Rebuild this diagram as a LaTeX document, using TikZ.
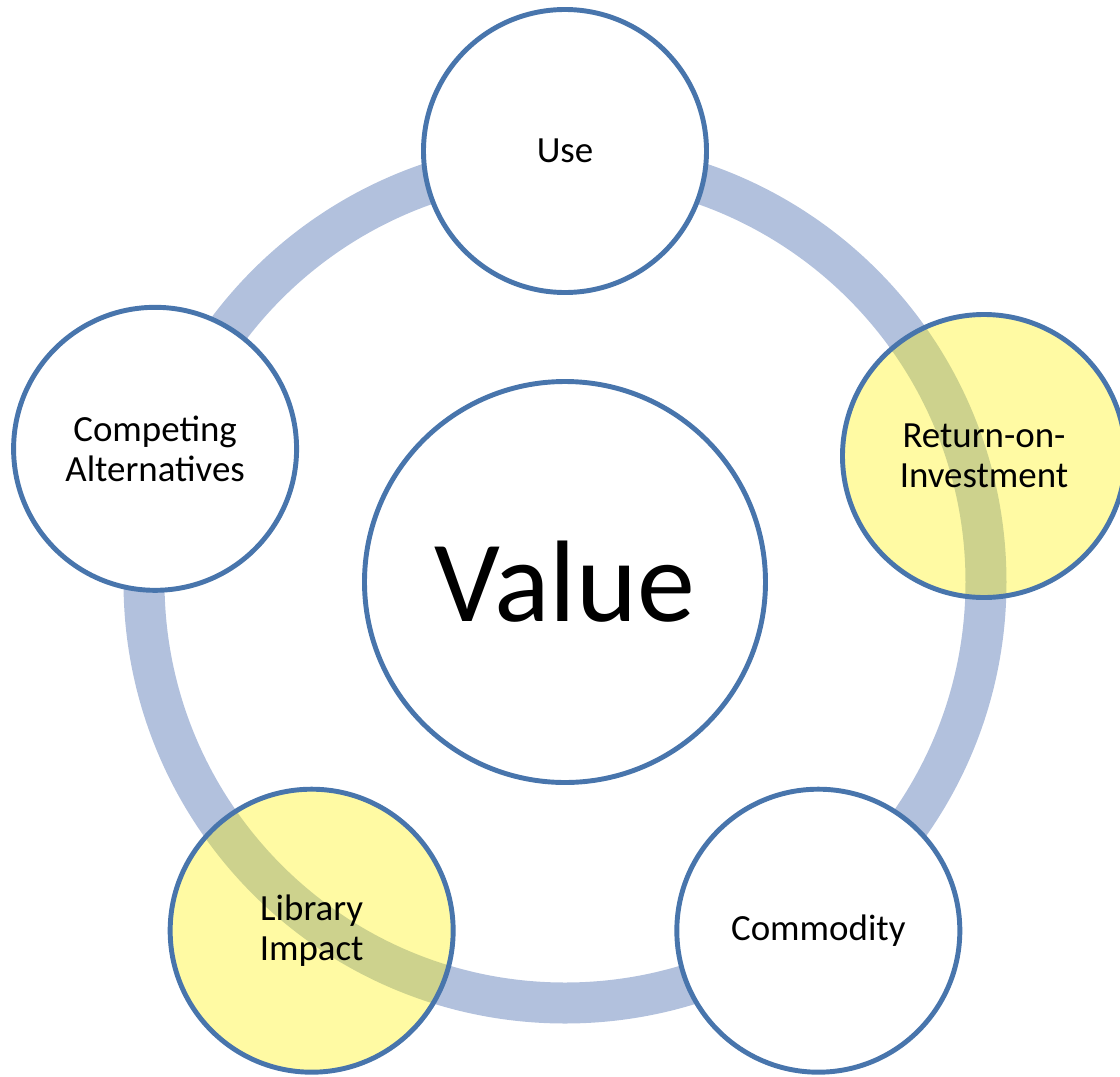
\documentclass[tikz,border=0pt]{standalone}
\usepackage{fontspec}
\setmainfont{Carlito}
\usepackage{tikz}
\usetikzlibrary{
  positioning
}
\definecolor{ringblue}{RGB}{178,193,221}
\definecolor{edgeblue}{RGB}{72,117,172}

\begin{document}
\begin{tikzpicture}[
    bubble/.style={circle, draw=edgeblue, line width=2.8pt, fill=white,
      minimum size=5.66cm, inner sep=0pt, align=center,
      font=\fontsize{21}{23}\selectfont},
    hilite/.style={bubble, fill=yellow, fill opacity=0.36, text opacity=1},
    core/.style={circle, draw=edgeblue, line width=2.8pt, fill=white,
      minimum size=8.02cm, inner sep=0pt,
      font=\fontsize{66}{79}\selectfont}
  ]
        \useasboundingbox (-11.3,-9.88) rectangle (11.1,11.64);
        % ring behind the bubbles
        \draw[ringblue, line width=0.82cm] (0,0) circle (8.42cm);
        \node[core] (value) at (0,0) {Value};
        \node[bubble] (use) at (90:8.62) {Use};
        \node[hilite] (roi) at (8.38,2.52) {Return-on-\\Investment};
        \node[bubble] (commodity) at (-54:8.62) {Commodity};
        \node[hilite] (impact) at (234:8.62) {Library\\Impact};
        \node[bubble] (competing) at (162:8.62) {Competing\\Alternatives};
    \end{tikzpicture}
\end{document}
